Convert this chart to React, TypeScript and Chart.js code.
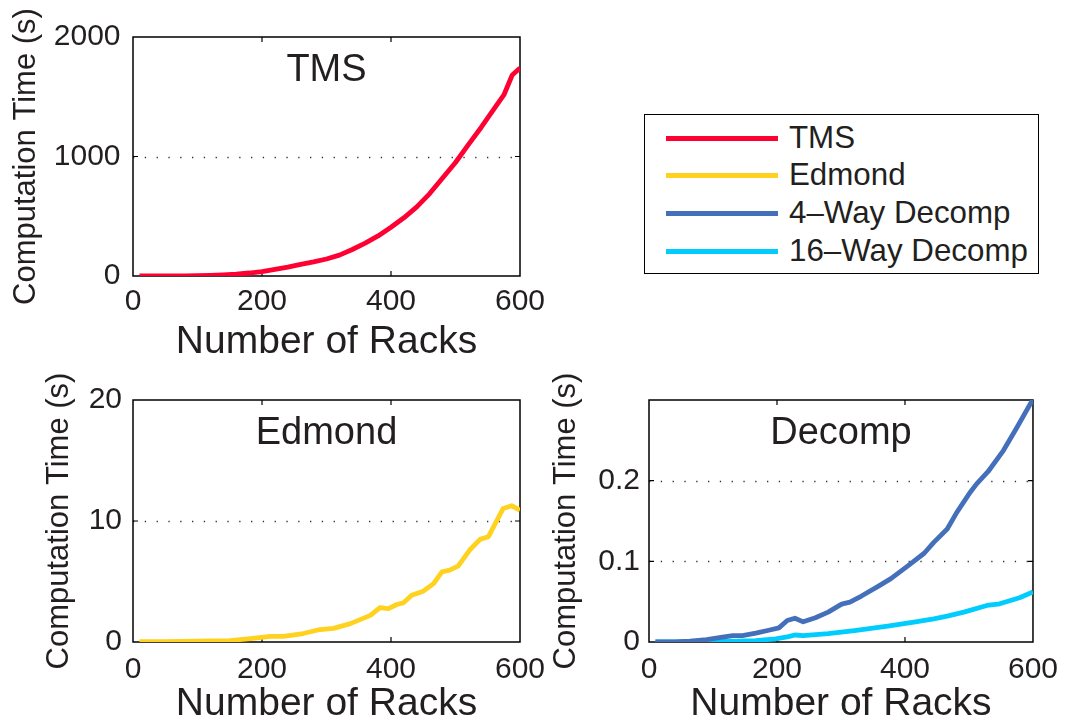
import React, { useEffect, useRef } from 'react';
import { Chart, registerables } from 'chart.js';

Chart.register(...registerables);

const FONT = '"Liberation Sans", Arial, Helvetica, sans-serif';
const INK = '#231f20';

const seriesNames = ['TMS', 'Edmond', '4\u2013Way Decomp', '16\u2013Way Decomp'];
const seriesColors = ['#ff0033', '#ffd21f', '#4470bb', '#00cdfd'];

const panelTitles = ['TMS', 'Edmond', 'Decomp'];
const xAxisTitle = 'Number of Racks';
const yAxisTitle = 'Computation Time (s)';

const rackTicks = [0, 200, 400, 600];
const tmsTicks = [0, 1000, 2000];
const edmondTicks = [0, 10, 20];
const decompTicks = [0, 0.1, 0.2];
const decompTickLabels = ['0', '0.1', '0.2'];

const tmsRacks = [10, 20, 40, 60, 80, 100, 120, 140, 160, 180, 200, 220, 240, 260, 280, 300, 320, 340, 360, 380, 400, 420, 440, 460, 480, 500, 520, 540, 560, 575, 588, 600];
const tmsTime = [0, 0, 0, 0.5, 1, 3, 6, 10, 16, 25, 37, 55, 75, 98, 118, 142, 175, 222, 275, 335, 408, 487, 578, 690, 820, 950, 1100, 1245, 1400, 1515, 1682, 1740];

const edmondRacks = [10, 50, 100, 150, 182, 213, 233, 264, 290, 311, 337, 368, 383, 396, 409, 419, 432, 450, 466, 479, 491, 504, 522, 538, 551, 574, 587, 600];
const edmondTime = [0.02, 0.03, 0.06, 0.12, 0.28, 0.47, 0.47, 0.7, 1.03, 1.13, 1.52, 2.2, 2.85, 2.76, 3.1, 3.23, 3.87, 4.2, 4.83, 5.8, 5.94, 6.27, 7.6, 8.48, 8.7, 11.04, 11.26, 10.9];

const decomp4Racks = [10, 40, 64, 90, 115, 131, 146, 167, 187, 203, 216, 228, 241, 260, 280, 301, 314, 332, 358, 378, 404, 430, 445, 466, 481, 502, 512, 530, 554, 574, 600];
const decomp4Time = [0, 0.0002, 0.001, 0.003, 0.006, 0.008, 0.008, 0.011, 0.0146, 0.0175, 0.0266, 0.0295, 0.025, 0.03, 0.037, 0.047, 0.0495, 0.057, 0.069, 0.0785, 0.094, 0.11, 0.1235, 0.14, 0.1607, 0.1857, 0.196, 0.2114, 0.2376, 0.2646, 0.301];

const decomp16Racks = [10, 64, 120, 167, 198, 218, 228, 241, 280, 321, 373, 414, 445, 466, 492, 528, 548, 579, 600];
const decomp16Time = [0, 0, 0.0008, 0.0017, 0.004, 0.0067, 0.0087, 0.008, 0.0105, 0.0142, 0.0196, 0.0245, 0.0287, 0.032, 0.037, 0.0453, 0.0474, 0.0548, 0.062];

const toPoints = (xs: number[], ys: number[]) => xs.map((x, i) => ({ x, y: ys[i] }));

const framePlugin = {
  id: 'matlabFrame',
  beforeDatasetsDraw(chart: any) {
    const { ctx, chartArea } = chart;
    const { left, right, top, bottom } = chartArea;
    const xs = chart.scales.x;
    const ys = chart.scales.y;
    ctx.save();
    ctx.strokeStyle = '#333';
    ctx.lineWidth = 1.3;
    ctx.setLineDash([1.3, 10.5]);
    ys.ticks.forEach((t: any) => {
      const py = Math.round(ys.getPixelForValue(t.value)) + 0.5;
      if (py > top + 2 && py < bottom - 2) {
        ctx.beginPath();
        ctx.moveTo(left, py);
        ctx.lineTo(right, py);
        ctx.stroke();
      }
    });
    ctx.setLineDash([]);
    ctx.strokeStyle = '#000';
    ctx.lineWidth = 1.2;
    const tl = 5;
    xs.ticks.forEach((t: any) => {
      const px = xs.getPixelForValue(t.value);
      if (px > left + 2 && px < right - 2) {
        ctx.beginPath();
        ctx.moveTo(px, bottom);
        ctx.lineTo(px, bottom - tl);
        ctx.moveTo(px, top);
        ctx.lineTo(px, top + tl);
        ctx.stroke();
      }
    });
    ys.ticks.forEach((t: any) => {
      const py = ys.getPixelForValue(t.value);
      if (py > top + 2 && py < bottom - 2) {
        ctx.beginPath();
        ctx.moveTo(left, py);
        ctx.lineTo(left + tl, py);
        ctx.moveTo(right, py);
        ctx.lineTo(right - tl, py);
        ctx.stroke();
      }
    });
    ctx.lineWidth = 1.5;
    ctx.strokeRect(left, top, right - left, bottom - top);
    ctx.restore();
  },
  afterDatasetsDraw(chart: any, _args: any, opts: any) {
    if (!opts || !opts.title) return;
    const { ctx, chartArea } = chart;
    ctx.save();
    ctx.font = `38px ${FONT}`;
    ctx.fillStyle = INK;
    ctx.textAlign = 'center';
    ctx.textBaseline = 'alphabetic';
    ctx.fillText(opts.title, (chartArea.left + chartArea.right) / 2, chartArea.top + 44);
    ctx.restore();
  },
};

type Spec = {
  left: number; top: number; w: number; h: number;
  datasets: any[];
  yMax: number; yTicks: number[]; yLabels: string[];
  title: string;
  yWidth: number; xHeight: number;
  padding: { left: number; top: number; right: number; bottom: number };
  yTitlePad: number; xTitlePad: number; xTickPad: number; yTickPad: number;
};

function buildConfig(spec: Spec): any {
  return {
    type: 'line',
    data: { datasets: spec.datasets },
    plugins: [framePlugin],
    options: {
      animation: false,
      responsive: false,
      events: [],
      layout: { padding: spec.padding },
      plugins: {
        legend: { display: false },
        tooltip: { enabled: false },
        matlabFrame: { title: spec.title },
      },
      scales: {
        x: {
          type: 'linear',
          min: 0,
          max: 600,
          afterBuildTicks: (s: any) => { s.ticks = rackTicks.map((v) => ({ value: v })); },
          afterFit: (s: any) => { s.height = spec.xHeight; },
          ticks: {
            font: { family: FONT, size: 30, lineHeight: 1.2 },
            color: INK,
            padding: spec.xTickPad,
            maxRotation: 0,
            autoSkip: false,
            callback: (v: any) => String(v),
          },
          grid: { display: false, drawTicks: false },
          border: { display: false },
          title: {
            display: true,
            text: xAxisTitle,
            color: INK,
            font: { family: FONT, size: 39, lineHeight: 1 },
            padding: { top: 0, bottom: spec.xTitlePad },
          },
        },
        y: {
          type: 'linear',
          min: 0,
          max: spec.yMax,
          afterBuildTicks: (s: any) => { s.ticks = spec.yTicks.map((v) => ({ value: v })); },
          afterFit: (s: any) => { s.width = spec.yWidth; },
          ticks: {
            font: { family: FONT, size: 30, lineHeight: 1.2 },
            color: INK,
            padding: spec.yTickPad,
            autoSkip: false,
            callback: (v: any) => {
              const i = spec.yTicks.indexOf(v);
              return i >= 0 ? spec.yLabels[i] : '';
            },
          },
          grid: { display: false, drawTicks: false },
          border: { display: false },
          title: {
            display: true,
            text: yAxisTitle,
            color: INK,
            font: { family: FONT, size: 31, lineHeight: 1 },
            padding: { top: spec.yTitlePad, bottom: 0 },
          },
        },
      },
    },
  };
}

const lineDs = (xs: number[], ys: number[], idx: number) => ({
  label: seriesNames[idx],
  data: toPoints(xs, ys),
  borderColor: seriesColors[idx],
  backgroundColor: seriesColors[idx],
  borderWidth: 4.8,
  pointRadius: 0,
  fill: false,
  tension: 0,
  borderJoinStyle: 'round',
});

const specs: Spec[] = [
  {
    left: 0, top: 0, w: 560, h: 364,
    datasets: [lineDs(tmsRacks, tmsTime, 0)],
    yMax: 2000, yTicks: tmsTicks, yLabels: tmsTicks.map(String),
    title: panelTitles[0],
    yWidth: 133, xHeight: 88,
    padding: { left: 0, top: 37, right: 40, bottom: 0 },
    yTitlePad: 10.5, xTitlePad: 2.5, xTickPad: 8, yTickPad: 12.5,
  },
  {
    left: 0, top: 370, w: 560, h: 355,
    datasets: [lineDs(edmondRacks, edmondTime, 1)],
    yMax: 20, yTicks: edmondTicks, yLabels: edmondTicks.map(String),
    title: panelTitles[1],
    yWidth: 133, xHeight: 83,
    padding: { left: 0, top: 30, right: 40, bottom: 0 },
    yTitlePad: 44, xTitlePad: 1.5, xTickPad: 10, yTickPad: 11,
  },
  {
    left: 530, top: 370, w: 538, h: 355,
    datasets: [lineDs(decomp4Racks, decomp4Time, 2), lineDs(decomp16Racks, decomp16Time, 3)],
    yMax: 0.3, yTicks: decompTicks, yLabels: decompTickLabels,
    title: panelTitles[2],
    yWidth: 119, xHeight: 83,
    padding: { left: 0, top: 30, right: 31, bottom: 0 },
    yTitlePad: 21, xTitlePad: 1.5, xTickPad: 10, yTickPad: 9,
  },
];

function Panel({ spec }: { spec: Spec }) {
  const ref = useRef<HTMLCanvasElement | null>(null);
  useEffect(() => {
    if (!ref.current) return;
    const chart = new Chart(ref.current, buildConfig(spec));
    return () => chart.destroy();
  }, []);
  return (
    <canvas
      ref={ref}
      width={spec.w}
      height={spec.h}
      style={{ position: 'absolute', left: spec.left, top: spec.top, width: spec.w, height: spec.h }}
    />
  );
}

const legendRowY = [138, 175, 213, 251];

function Legend() {
  return (
    <div>
      <div
        style={{
          position: 'absolute', left: 644, top: 114, width: 395, height: 160,
          boxSizing: 'border-box', border: '1.5px solid #000', background: '#fff',
        }}
      />
      {seriesNames.map((name, i) => (
        <React.Fragment key={name}>
          <div
            style={{
              position: 'absolute', left: 666, top: legendRowY[i] - 2.5, width: 112, height: 5,
              background: seriesColors[i],
            }}
          />
          <div
            style={{
              position: 'absolute', left: 789, top: legendRowY[i] - 18, height: 36,
              lineHeight: '36px', fontSize: 31.3, fontFamily: FONT, color: INK, whiteSpace: 'nowrap',
            }}
          >
            {name}
          </div>
        </React.Fragment>
      ))}
    </div>
  );
}

export default function App() {
  return (
    <div
      style={{
        position: 'absolute', left: 0, top: 0, width: 1068, height: 725,
        background: '#fff', overflow: 'hidden',
      }}
    >
      {specs.map((s, i) => (
        <Panel key={i} spec={s} />
      ))}
      <Legend />
    </div>
  );
}
